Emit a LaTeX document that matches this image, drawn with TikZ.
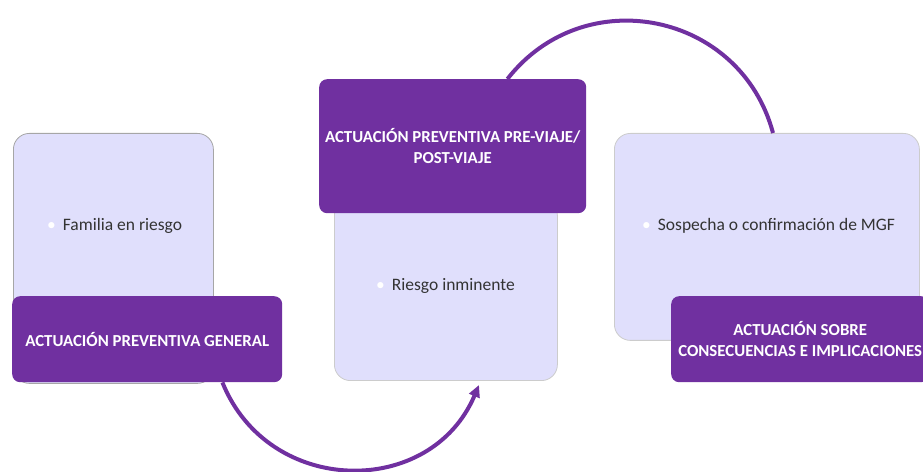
\documentclass[tikz,border=0pt]{standalone}
\usepackage{fontspec}
\setmainfont{Carlito}
\usetikzlibrary{arrows.meta,positioning}
\definecolor{mgfpurple}{HTML}{7030A0}
\definecolor{mgflilac}{HTML}{E0DFFC}
\newcommand{\whitedot}{\textcolor{white}{\textbullet}\hspace{7pt}}

\begin{document}
\begin{tikzpicture}[x=1pt,y=1pt,
	panel/.style={draw=#1, fill=mgflilac, rounded corners=16pt, line width=0.8pt},
	heading/.style={fill=mgfpurple, rounded corners=8pt, text=white, align=center, inner sep=0pt,
		font=\bfseries\fontsize{16.8}{21}\selectfont},
	item/.style={text=black!80, inner sep=0pt, font=\fontsize{17.5}{20}\selectfont},
	cycle/.style={draw=mgfpurple, line width=4pt}]
	\useasboundingbox (0,0) rectangle (923,471);
	% left phase
	\node[panel=gray!70, minimum width=200pt, minimum height=250pt, anchor=north west] (famPanel) at (13,338) {};
	\node[item, anchor=west] (famItem) at (47,245) {\whitedot Familia en riesgo};
	\node[heading, minimum width=270pt, minimum height=86pt, anchor=north west] (gen) at (12,175) {ACTUACIÓN PREVENTIVA GENERAL};
	% middle phase
	\node[panel=gray!40, minimum width=223pt, minimum height=181pt, anchor=south west] (risk) at (334,90) {};
	\node[item, anchor=west] (riskItem) at (376,185) {\whitedot Riesgo inminente};
	\node[heading, minimum width=267pt, minimum height=134pt, anchor=north west] (pre) at (319,392) {ACTUACIÓN PREVENTIVA PRE-VIAJE/\\POST-VIAJE};
	% right phase
	\node[panel=gray!40, minimum width=305pt, minimum height=207pt, anchor=north west] (sus) at (614,338) {};
	\node[item, anchor=west] (susItem) at (642,245) {\whitedot Sospecha o confirmación de MGF};
	\node[heading, minimum width=258pt, minimum height=86pt, anchor=north west] (cons) at (671,175) {ACTUACIÓN SOBRE\\CONSECUENCIAS E IMPLICACIONES};
	% arcs
	\coordinate (genOut) at ([xshift=-60pt]gen.south east);
	\coordinate (riskIn) at ([xshift=145pt,yshift=-4pt]risk.south west);
	\coordinate (preOut) at ([xshift=-79pt]pre.north east);
	\coordinate (susIn) at ([xshift=159pt]sus.north west);
	\draw[cycle, -{Triangle[length=12pt,width=11pt]}] (genOut) to[out=-68, in=-113, looseness=1.23] (riskIn);
	\draw[cycle] (preOut) to[out=52, in=105, looseness=1.18] (susIn);
\end{tikzpicture}
\end{document}
